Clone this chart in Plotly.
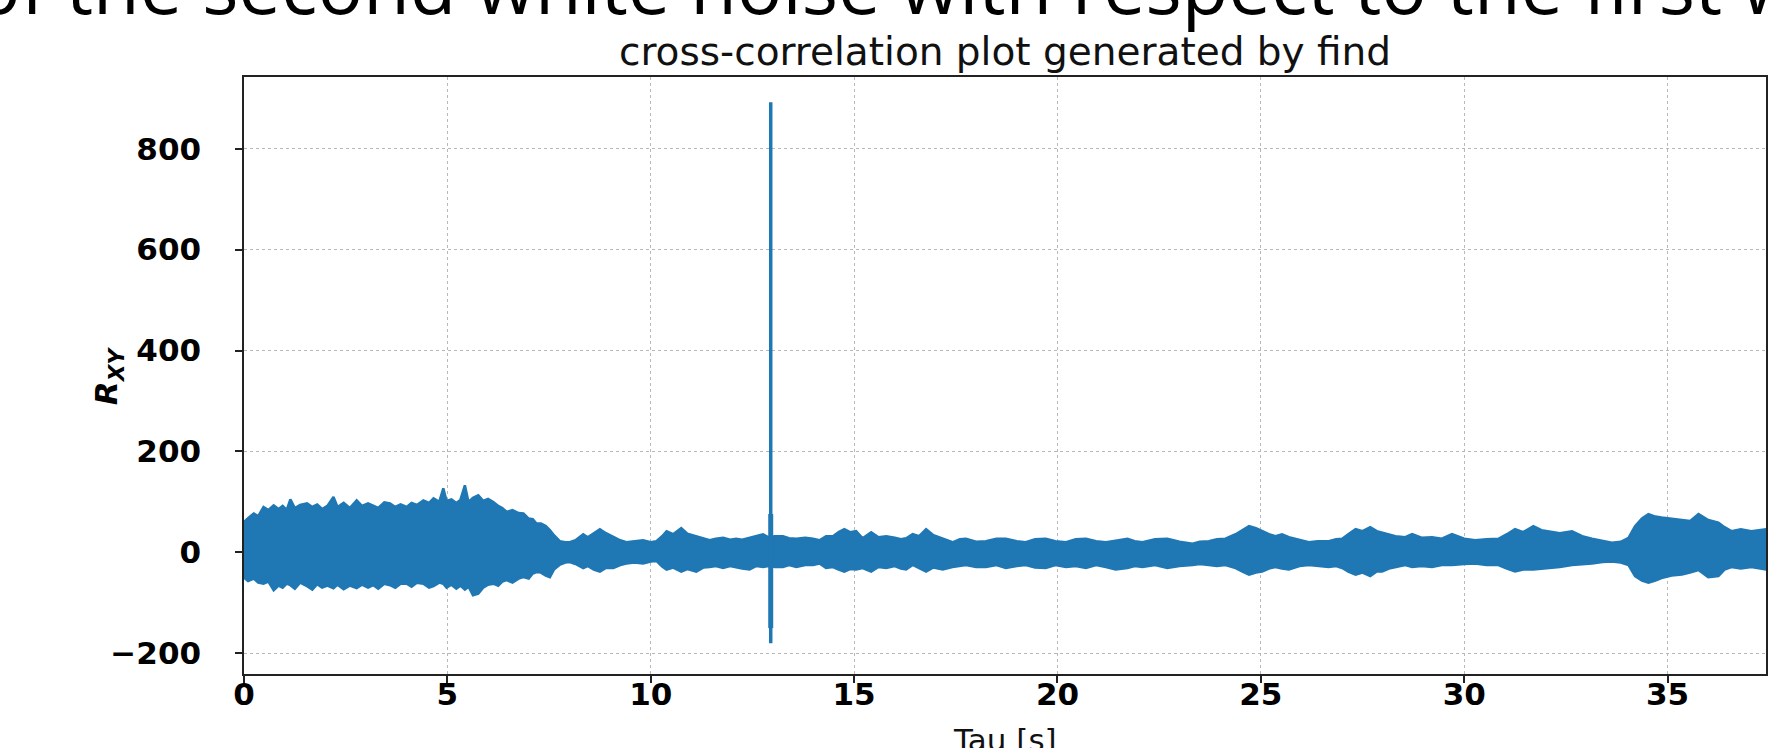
import plotly.graph_objects as go

# ---- data ----
tau = [0.0, 0.1, 0.24, 0.35, 0.48, 0.6, 0.73, 0.85, 0.95, 1.05, 1.14, 1.25, 1.38, 1.55, 1.68, 1.8, 1.92,
       2.05, 2.2, 2.3, 2.45, 2.6, 2.77, 2.9, 3.05, 3.18, 3.3, 3.45, 3.59, 3.72, 3.85, 4.0, 4.12, 4.25,
       4.41, 4.55, 4.66, 4.8, 4.9, 4.98, 5.1, 5.22, 5.32, 5.43, 5.52, 5.63, 5.76, 5.88, 6.0, 6.13, 6.25,
       6.35, 6.46, 6.6, 6.75, 6.87, 7.0, 7.1, 7.19, 7.3, 7.42, 7.52, 7.62, 7.77, 7.9, 8.01, 8.15, 8.34,
       8.45, 8.6, 8.75, 8.9, 9.08, 9.25, 9.4, 9.6, 9.81, 10.0, 10.14, 10.28, 10.39, 10.55, 10.75, 10.9,
       11.12, 11.3, 11.45, 11.6, 11.78, 11.95, 12.1, 12.25, 12.43, 12.6, 12.76, 12.9, 13.05, 13.25, 13.4,
       13.58, 13.8, 13.99, 14.15, 14.31, 14.48, 14.62, 14.76, 14.9, 15.05, 15.21, 15.42, 15.6, 15.79,
       16.0, 16.15, 16.28, 16.44, 16.6, 16.77, 16.95, 17.18, 17.42, 17.6, 17.75, 18.0, 18.24, 18.5,
       18.73, 19.0, 19.22, 19.45, 19.71, 19.95, 20.21, 20.45, 20.7, 20.95, 21.19, 21.43, 21.72, 21.9,
       22.09, 22.4, 22.7, 23.0, 23.32, 23.5, 23.72, 23.92, 24.13, 24.38, 24.55, 24.71, 24.88, 25.03,
       25.2, 25.36, 25.52, 25.69, 25.95, 26.18, 26.4, 26.67, 26.85, 27.0, 27.15, 27.33, 27.5, 27.69,
       27.85, 27.98, 28.15, 28.31, 28.55, 28.72, 28.95, 29.21, 29.45, 29.7, 30.0, 30.27, 30.55, 30.84,
       31.05, 31.25, 31.45, 31.7, 31.9, 32.07, 32.35, 32.65, 32.9, 33.14, 33.4, 33.63, 33.85, 34.04,
       34.2, 34.37, 34.53, 34.7, 34.85, 35.1, 35.35, 35.55, 35.76, 36.0, 36.25, 36.4, 36.57, 36.8,
       37.06, 37.25, 37.42]

upper = [60, 68, 77, 72, 90, 84, 93, 86, 92, 84, 105, 88, 94, 97, 90, 95, 86,
         92, 110, 90, 98, 88, 103, 92, 97, 93, 88, 99, 97, 90, 95, 90, 98, 94,
         103, 98, 107, 100, 127, 102, 105, 98, 104, 133, 100, 108, 113, 102, 106, 100, 92,
         88, 80, 84, 78, 77, 67, 66, 57, 57, 52, 44, 34, 22, 20, 20, 24, 36,
         30, 38, 46, 38, 30, 24, 20, 22, 24, 20, 22, 32, 42, 36, 48, 37,
         32, 28, 24, 27, 29, 25, 27, 25, 29, 32, 36, 30, 32, 32, 28,
         27, 29, 27, 24, 32, 32, 40, 46, 40, 42, 28, 40, 30, 32,
         29, 26, 28, 36, 32, 46, 34, 27, 20, 26, 27, 21, 22, 27,
         27, 22, 20, 26, 27, 22, 20, 26, 27, 22, 20, 23, 27, 22,
         20, 26, 27, 21, 17, 21, 22, 26, 27, 36, 44, 52, 48, 42,
         36, 32, 36, 30, 24, 20, 22, 22, 26, 27, 36, 46, 42, 50,
         42, 39, 36, 32, 30, 36, 29, 30, 27, 36, 27, 24, 26, 27,
         36, 46, 40, 52, 44, 42, 38, 42, 32, 27, 22, 19, 21, 29,
         52, 67, 76, 71, 69, 67, 65, 62, 76, 64, 59, 50, 42, 46,
         42, 44, 46]

lower = [-50, -57, -52, -60, -62, -58, -75, -66, -70, -62, -65, -72, -60, -67, -74, -63, -70,
         -66, -71, -64, -73, -66, -71, -64, -70, -65, -72, -62, -65, -70, -62, -62, -68, -60,
         -62, -70, -67, -60, -62, -70, -64, -72, -66, -74, -68, -85, -82, -70, -64, -62, -66,
         -58, -55, -60, -52, -49, -52, -42, -39, -40, -46, -49, -34, -24, -20, -19, -23, -31,
         -27, -34, -38, -31, -31, -25, -22, -20, -22, -18, -17, -28, -34, -30, -38, -33,
         -38, -30, -29, -27, -31, -27, -29, -32, -34, -27, -29, -27, -29, -29, -25,
         -29, -25, -25, -22, -31, -29, -34, -38, -33, -34, -31, -38, -29, -31,
         -27, -32, -34, -25, -32, -38, -30, -34, -29, -27, -25, -29, -29, -25,
         -31, -27, -25, -30, -31, -25, -29, -27, -31, -25, -29, -34, -31, -27,
         -29, -25, -31, -27, -25, -23, -25, -27, -25, -31, -38, -44, -40, -38,
         -32, -29, -32, -34, -27, -25, -27, -29, -27, -31, -38, -44, -40, -47,
         -38, -38, -32, -29, -25, -29, -27, -29, -25, -25, -23, -22, -25, -25,
         -32, -38, -34, -34, -32, -31, -29, -25, -23, -22, -19, -18, -20, -25,
         -47, -56, -60, -56, -51, -46, -44, -40, -35, -49, -47, -34, -29, -32,
         -29, -32, -34]

spike_tau = [12.95, 12.95]
spike_val = [-180, 892]
spike_core_val = [-150, 76]

x_ticks = [0, 5, 10, 15, 20, 25, 30, 35]
y_ticks = [-200, 0, 200, 400, 600, 800]
y_tick_text = ["\u2212200", "0", "200", "400", "600", "800"]

BLUE = "#1f77b4"

fig = go.Figure()
fig.add_trace(go.Scatter(
    x=tau + tau[::-1], y=upper + lower[::-1],
    mode="lines", fill="toself", fillcolor=BLUE,
    line=dict(color=BLUE, width=2.5), hoverinfo="skip", showlegend=False))
fig.add_trace(go.Scatter(
    x=spike_tau, y=spike_val, mode="lines",
    line=dict(color=BLUE, width=3.5), showlegend=False))
fig.add_trace(go.Scatter(
    x=spike_tau, y=spike_core_val, mode="lines",
    line=dict(color=BLUE, width=5), showlegend=False))

tickfont = dict(family="DejaVu Sans", size=31, color="black", weight="bold")
axis_common = dict(
    showline=True, linecolor="#222", linewidth=1.5, mirror=True,
    ticks="outside", ticklen=7, tickwidth=1.5, tickcolor="#222",
    showgrid=True, gridcolor="#b8b8b8", griddash="dot", gridwidth=1,
    zeroline=False, tickfont=tickfont)

fig.update_xaxes(range=[0, 37.42], tickvals=x_ticks, ticklabelstandoff=-15, **axis_common)
fig.update_yaxes(range=[-241, 942], tickvals=y_ticks, ticktext=y_tick_text,
                 ticklabelstandoff=28, **axis_common)

L, R, T, B = 244, 9, 77, 74
W, H = 1777, 748
pw = W - L - R
ph = H - T - B

def px_x(px):
    return (px - L) / pw

def px_y(py):
    return (H - B - py) / ph

annotations = [
    # slide heading, cut off at top
    dict(text="of the second white noise with respect to the first white noise",
         xref="paper", yref="paper", x=px_x(-27), y=px_y(38), xanchor="left", yanchor="bottom",
         showarrow=False, font=dict(family="Open Sans", size=76, color="black")),
    # chart title
    dict(text="cross-correlation plot generated by find",
         xref="paper", yref="paper", x=0.5, y=px_y(76), xanchor="center", yanchor="bottom",
         showarrow=False, font=dict(family="DejaVu Sans", size=39, color="#111")),
    # x-axis label
    dict(text="Tau [s]", xref="paper", yref="paper", x=0.5, y=px_y(720),
         xanchor="center", yanchor="top", showarrow=False,
         font=dict(family="DejaVu Sans", size=31, color="#111")),
    # y-axis label
    dict(text="<b><i>R<sub>XY</sub></i></b>", xref="paper", yref="paper", x=px_x(108), y=px_y(376),
         xanchor="center", yanchor="middle", textangle=-90, showarrow=False,
         font=dict(family="DejaVu Sans", size=31, color="black")),
]

fig.update_layout(
    width=W, height=H, autosize=False,
    margin=dict(l=L, r=R, t=T, b=B, pad=0),
    paper_bgcolor="white", plot_bgcolor="white",
    showlegend=False, annotations=annotations)

fig.write_html("out.html", config={"displayModeBar": False})
